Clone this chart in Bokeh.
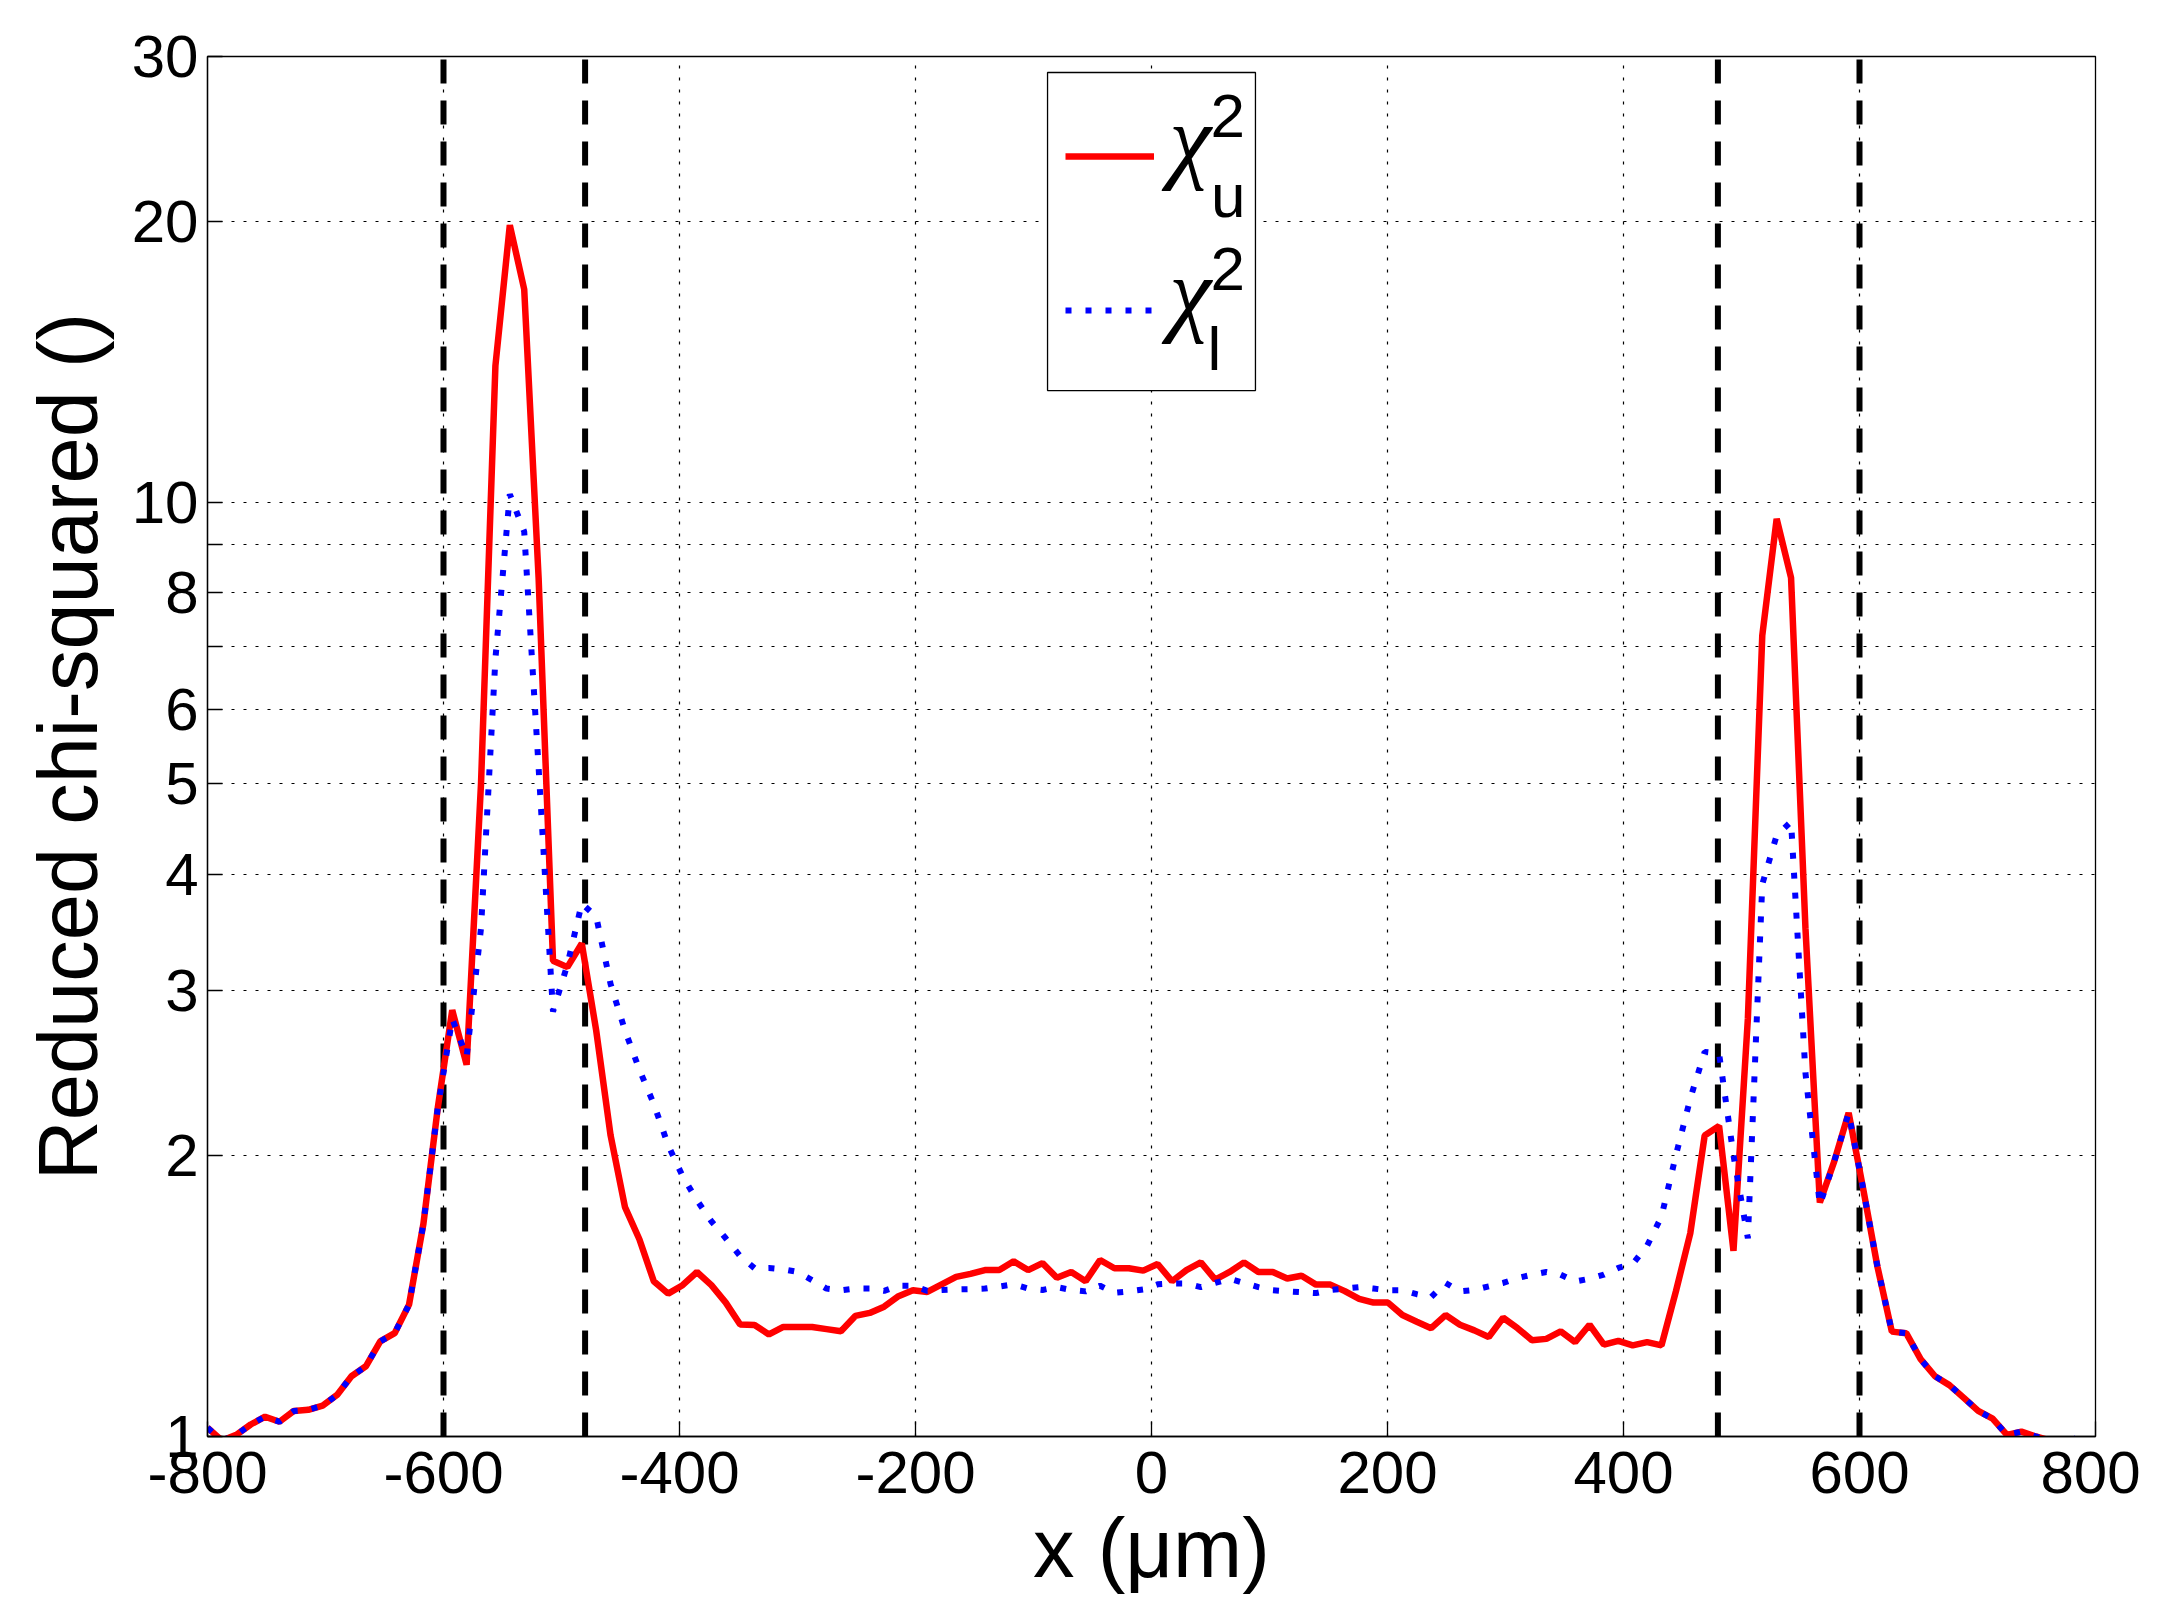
from bokeh.plotting import figure
from bokeh.models import (Range1d, FixedTicker, Legend, LegendItem, BoxAnnotation,
                          NumeralTickFormatter)
from bokeh.core.properties import value
from bokeh.embed import file_html
from bokeh.resources import INLINE

# ---------------- data ----------------
X_UM = [-800.0, -787.8, -775.6, -763.4, -751.2, -739.0, -726.8, -714.6, -702.4, -690.2,
        -678.0, -665.8, -653.6, -641.4, -629.2, -617.0, -604.8, -592.6, -580.4, -568.2,
        -556.0, -543.8, -531.6, -519.4, -507.2, -495.0, -482.8, -470.6, -458.4, -446.2,
        -434.0, -421.8, -409.6, -397.4, -385.2, -373.0, -360.8, -348.6, -336.4, -324.2,
        -312.0, -299.8, -287.6, -275.4, -263.2, -251.0, -238.8, -226.6, -214.4, -202.2,
        -190.0, -177.8, -165.6, -153.4, -141.2, -129.0, -116.8, -104.6, -92.4, -80.2,
        -68.0, -55.8, -43.6, -31.4, -19.2, -7.0, 5.2, 17.4, 29.6, 41.8,
        54.0, 66.2, 78.4, 90.6, 102.8, 115.0, 127.2, 139.4, 151.6, 163.8,
        176.0, 188.2, 200.4, 212.6, 224.8, 237.0, 249.2, 261.4, 273.6, 285.8,
        298.0, 310.2, 322.4, 334.6, 346.8, 359.0, 371.2, 383.4, 395.6, 407.8,
        420.0, 432.2, 444.4, 456.6, 468.8, 481.0, 493.2, 505.4, 517.6, 529.8,
        542.0, 554.2, 566.4, 578.6, 590.8, 603.0, 615.2, 627.4, 639.6, 651.8,
        664.0, 676.2, 688.4, 700.6, 712.8, 725.0, 737.2, 749.4, 761.6, 773.8,
        786.0, 798.2]

CHI2_U = [1.022, 0.99, 1.004, 1.03, 1.05, 1.037, 1.065, 1.068, 1.079, 1.108,
          1.16, 1.189, 1.264, 1.29, 1.384, 1.69, 2.25, 2.86, 2.50, 5.0,
          14.0, 19.8, 16.9, 8.3, 3.23, 3.18, 3.37, 2.72, 2.10, 1.76,
          1.626, 1.466, 1.422, 1.452, 1.50, 1.452, 1.391, 1.318, 1.316, 1.286,
          1.31, 1.31, 1.31, 1.303, 1.296, 1.346, 1.356, 1.377, 1.413, 1.434,
          1.428, 1.455, 1.482, 1.493, 1.507, 1.507, 1.54, 1.507, 1.533, 1.479,
          1.50, 1.466, 1.545, 1.514, 1.514, 1.505, 1.53, 1.466, 1.507, 1.536,
          1.472, 1.50, 1.536, 1.50, 1.50, 1.476, 1.486, 1.454, 1.454, 1.431,
          1.404, 1.391, 1.391, 1.349, 1.327, 1.306, 1.349, 1.317, 1.299, 1.278,
          1.34, 1.306, 1.268, 1.272, 1.296, 1.262, 1.317, 1.254, 1.266, 1.252,
          1.262, 1.252, 1.43, 1.65, 2.10, 2.15, 1.58, 2.8, 7.2, 9.6,
          8.3, 3.5, 1.78, 1.97, 2.22, 1.845, 1.52, 1.295, 1.29, 1.21,
          1.16, 1.135, 1.10, 1.065, 1.045, 1.004, 1.012, 1.0, 0.99, 0.98,
          0.99, 0.98]

CHI2_L = [1.022, 0.99, 1.004, 1.03, 1.05, 1.037, 1.065, 1.068, 1.079, 1.108,
          1.16, 1.189, 1.264, 1.29, 1.384, 1.69, 2.25, 2.80, 2.55, 3.5,
          6.8, 10.2, 9.3, 5.2, 2.85, 3.2, 3.72, 3.6, 3.05, 2.72,
          2.47, 2.27, 2.05, 1.9, 1.79, 1.70, 1.63, 1.56, 1.514, 1.515,
          1.51, 1.50, 1.47, 1.44, 1.434, 1.44, 1.44, 1.432, 1.45, 1.45,
          1.432, 1.435, 1.437, 1.438, 1.44, 1.447, 1.455, 1.44, 1.435, 1.445,
          1.435, 1.43, 1.45, 1.425, 1.43, 1.437, 1.455, 1.458, 1.458, 1.445,
          1.46, 1.475, 1.46, 1.445, 1.434, 1.43, 1.427, 1.424, 1.435, 1.44,
          1.445, 1.44, 1.434, 1.434, 1.42, 1.41, 1.46, 1.43, 1.435, 1.448,
          1.46, 1.478, 1.49, 1.50, 1.49, 1.465, 1.475, 1.49, 1.515, 1.53,
          1.6, 1.72, 2.0, 2.3, 2.58, 2.57, 2.0, 1.63, 3.9, 4.4,
          4.55, 2.45, 1.77, 1.97, 2.22, 1.845, 1.52, 1.295, 1.29, 1.21,
          1.16, 1.135, 1.10, 1.065, 1.045, 1.004, 1.012, 1.0, 0.99, 0.98,
          1.0, 0.99]

BOUNDARIES_UM = [-600, -480, 480, 600]
BOUNDARY_Y0 = [1, 1, 1, 1]
BOUNDARY_Y1 = [30, 30, 30, 30]

X_TICKS = [-800, -600, -400, -200, 0, 200, 400, 600, 800]
Y_TICKS = [1, 2, 3, 4, 5, 6, 7, 8, 9, 10, 20, 30]
Y_TICK_LABELS = ["1", "2", "3", "4", "5", "6", "", "8", "", "10", "20", "30"]

# legend symbol texts: chi, superscript "2", subscripts "u" and "l"
LEGEND_CHI = ["χ", "χ"]
LEGEND_SUP = ["2", "2"]
LEGEND_SUB = ["u", "l"]
# their anchor positions (in data units of the axes)
CHI_X, CHI_Y = [15.0, 15.0], [24.5, 16.8]
SUP_X, SUP_Y = [50.0, 50.0], [25.9, 17.75]
SUB_X, SUB_Y = [50.5, 47.5], [21.3, 14.6]
# legend frame (data units)
LEG_LEFT, LEG_RIGHT, LEG_TOP, LEG_BOTTOM = -88.1, 88.1, 28.84, 13.17

FONT = "Liberation Sans"

# ---------------- figure ----------------
p = figure(x_range=Range1d(-800, 800), y_range=Range1d(1, 30), y_axis_type="log",
           frame_width=1888, frame_height=1380,
           min_border_left=207, min_border_top=56, min_border_right=45, min_border_bottom=169,
           output_backend="svg", toolbar_location=None,
           background_fill_color="white", border_fill_color="white")
p.outline_line_color = "black"
p.outline_line_width = 1.3

xt = FixedTicker(ticks=X_TICKS, minor_ticks=[])
yt = FixedTicker(ticks=Y_TICKS, minor_ticks=[])

xa = p.xaxis[0]
xa.ticker = xt
xa.formatter = NumeralTickFormatter(format="0")
xa.axis_label = "x (μm)"
ya = p.yaxis[0]
ya.ticker = yt
ya.formatter = NumeralTickFormatter(format="0")
ya.major_label_overrides = {float(t): s for t, s in zip(Y_TICKS, Y_TICK_LABELS)}
ya.axis_label = "Reduced chi-squared ()"

for ax in (xa, ya):
    ax.axis_line_color = "black"
    ax.axis_line_width = 1.3
    ax.major_tick_in = 15
    ax.major_tick_out = 0
    ax.major_tick_line_color = "black"
    ax.major_tick_line_width = 1.3
    ax.minor_tick_line_color = None
    ax.major_label_text_font = FONT
    ax.major_label_text_font_size = "60px"
    ax.major_label_text_color = "black"
    ax.axis_label_text_font = FONT
    ax.axis_label_text_font_size = "83px"
    ax.axis_label_text_font_style = "normal"
    ax.axis_label_text_color = "black"

xa.major_label_standoff = 15
xa.axis_label_standoff = 6
ya.major_label_standoff = 9
ya.axis_label_standoff = 14

# grid
p.xgrid[0].ticker = xt
p.ygrid[0].ticker = yt
for g in (p.xgrid[0], p.ygrid[0]):
    g.grid_line_color = "black"
    g.grid_line_width = 1.2
    g.grid_line_dash = "3 9"
    g.grid_line_alpha = 1.0

# legend frame: white box over the grid, under the glyphs
p.add_layout(BoxAnnotation(left=LEG_LEFT, right=LEG_RIGHT, top=LEG_TOP, bottom=LEG_BOTTOM,
                           fill_color="white", fill_alpha=1.0,
                           line_color="black", line_width=1.3, line_alpha=1.0,
                           level="underlay", editable=False))

# boundaries
p.segment(x0=BOUNDARIES_UM, y0=BOUNDARY_Y0, x1=BOUNDARIES_UM, y1=BOUNDARY_Y1,
          line_color="black", line_width=6, line_dash="24 17")

# curves
r_u = p.line(X_UM, CHI2_U, line_color="#ff0000", line_width=6.5)
r_l = p.line(X_UM, CHI2_L, line_color="#0000ff", line_width=6, line_dash="6 14")

# legend samples (transparent legend on top of the white frame)
legend = Legend(items=[LegendItem(label=" ", renderers=[r_u]),
                       LegendItem(label=" ", renderers=[r_l])],
                location="top_center", orientation="vertical",
                padding=18, spacing=26, glyph_width=89, glyph_height=128,
                label_height=128, label_width=83, label_standoff=0, margin=36,
                border_line_color=None, background_fill_alpha=0.0,
                label_text_font_size="20px")
p.add_layout(legend)

p.text(x=CHI_X, y=CHI_Y, text=LEGEND_CHI, text_font=value("Liberation Serif"),
       text_font_style="italic", text_font_size="95px", text_color="black",
       text_align="left", text_baseline="alphabetic")
p.text(x=SUP_X, y=SUP_Y, text=LEGEND_SUP, text_font=value(FONT),
       text_font_size="62px", text_color="black",
       text_align="left", text_baseline="alphabetic")
p.text(x=SUB_X, y=SUB_Y, text=LEGEND_SUB, text_font=value(FONT),
       text_font_size="62px", text_color="black",
       text_align="left", text_baseline="alphabetic")

open("out.html", "w").write(file_html(p, INLINE))
